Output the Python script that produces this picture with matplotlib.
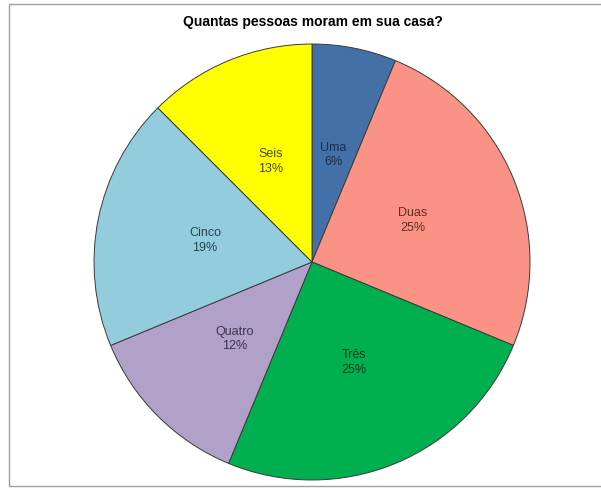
import matplotlib.pyplot as plt
from matplotlib.patches import Rectangle

## Data (slice angles match counts out of 16)
categorias = ["Uma", "Duas", "Três", "Quatro", "Cinco", "Seis"]
contagens = [1, 4, 4, 2, 3, 2]
rotulos_pct = ["6%", "25%", "25%", "12%", "19%", "13%"]
cores = ["#4470A8", "#FA9386", "#00AF50", "#B1A0C8", "#93CDDD", "#FFFF00"]
cores_texto = ["#1A2E50", "#6A2A25", "#0A3A1E", "#3E3450", "#274650", "#4A4A10"]

plt.rcParams['font.family'] = ['Liberation Sans', 'DejaVu Sans']

fig = plt.figure(figsize=(6.01, 4.88), dpi=100)

## frame around the chart area
fig.patches.append(Rectangle((9 / 601, 2 / 488), 1.0, 482 / 488, transform=fig.transFigure,
                             fill=False, edgecolor="#A0A0A0", linewidth=1.0))

ax = fig.add_axes([0.1564, 0.0164, 0.7255, 0.8934])
wedges, textos = ax.pie(contagens, colors=cores, startangle=90, counterclock=False,
                        radius=1.0, labeldistance=0.5,
                        labels=[f"{c}\n{p}" for c, p in zip(categorias, rotulos_pct)],
                        wedgeprops=dict(edgecolor="#3A3A3A", linewidth=0.7))
for t, cor in zip(textos, cores_texto):
    t.set_color(cor)
    t.set_fontsize(9)
    t.set_horizontalalignment("center")
    t.set_verticalalignment("center")
    t.set_linespacing(1.3)
ax.set_xlim(-1.0, 1.0)
ax.set_ylim(-1.0, 1.0)
ax.set_aspect("equal")

fig.text(0.52, 1 - 22 / 488, "Quantas pessoas moram em sua casa?", ha="center", va="center",
         fontsize=10, fontweight="bold", color="black")

fig.savefig("out.png", dpi=100)
